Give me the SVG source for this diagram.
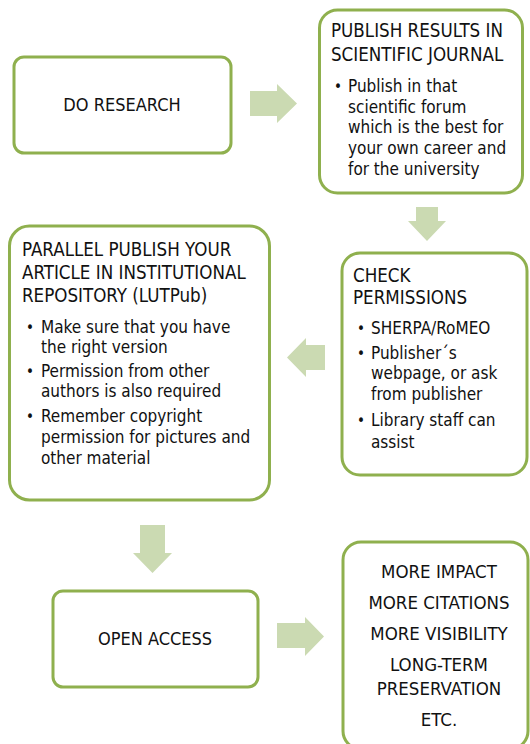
<svg xmlns="http://www.w3.org/2000/svg" width="530" height="744" viewBox="0 0 530 744">
<style>
.box{fill:#fff;stroke:#8fb04e;stroke-width:3}
.arr{fill:#cbdab2}
text{font-family:"DejaVu Sans Condensed","DejaVu Sans",sans-serif;fill:#111;font-size:17px}
.t{font-size:18px}
.h{font-size:18.6px}
.m{font-size:18.5px}
.b{font-size:15px}
.c{text-anchor:middle}
</style>
<rect width="530" height="744" fill="#fff"/>
<g id="connectors">
<polygon class="arr" points="250,91 277,91 277,84 297,103.5 277,123 277,116 250,116"/>
<polygon class="arr" points="416,207 438,207 438,221 446,221 427,241 408,221 416,221"/>
<polygon class="arr" points="325,345 306,345 306,338 287,357.5 306,377 306,370 325,370"/>
<polygon class="arr" points="140,525 165,525 165,553 172,553 152.5,573 133,553 140,553"/>
<polygon class="arr" points="277,623 305,623 305,617 324,636.5 305,656 305,648 277,648"/>
</g>
<g id="do-research">
<rect class="box" x="14" y="57" width="217" height="96" rx="10"/>
<text class="t c" x="122" y="111">DO RESEARCH</text>
</g>
<g id="publish-results">
<rect class="box" x="319.5" y="10" width="203" height="183" rx="18"/>
<text class="h" x="331" y="37">PUBLISH RESULTS IN</text>
<text class="h" x="331" y="61">SCIENTIFIC JOURNAL</text>
<text class="b" x="334" y="92">•</text>
<text x="348" y="92">Publish in that</text>
<text x="348" y="113">scientific forum</text>
<text x="348" y="133">which is the best for</text>
<text x="348" y="154">your own career and</text>
<text x="348" y="175">for the university</text>
</g>
<g id="check-permissions">
<rect class="box" x="342" y="253" width="185" height="222" rx="18"/>
<text class="h" x="353" y="282">CHECK</text>
<text class="h" x="353" y="304">PERMISSIONS</text>
<text class="b" x="357" y="334">•</text>
<text x="371" y="334">SHERPA/RoMEO</text>
<text class="b" x="357" y="359">•</text>
<text x="371" y="359">Publisher´s</text>
<text x="371" y="379">webpage, or ask</text>
<text x="371" y="400">from publisher</text>
<text class="b" x="357" y="426">•</text>
<text x="371" y="426">Library staff can</text>
<text x="371" y="448">assist</text>
</g>
<g id="parallel-publish">
<rect class="box" x="9.5" y="226" width="260" height="274" rx="20"/>
<text class="h" x="22" y="256">PARALLEL PUBLISH YOUR</text>
<text class="h" x="22" y="279">ARTICLE IN INSTITUTIONAL</text>
<text class="h" x="22" y="302">REPOSITORY (LUTPub)</text>
<text class="b" x="26" y="333">•</text>
<text x="41" y="333">Make sure that you have</text>
<text x="41" y="353">the right version</text>
<text class="b" x="26" y="377">•</text>
<text x="41" y="377">Permission from other</text>
<text x="41" y="397">authors is also required</text>
<text class="b" x="26" y="422">•</text>
<text x="41" y="422">Remember copyright</text>
<text x="41" y="443">permission for pictures and</text>
<text x="41" y="464">other material</text>
</g>
<g id="open-access">
<rect class="box" x="53" y="591" width="205" height="96" rx="10"/>
<text class="t c" x="155" y="645">OPEN ACCESS</text>
</g>
<g id="benefits">
<rect class="box" x="343" y="542" width="185" height="207" rx="18"/>
<text class="m c" x="439" y="578">MORE IMPACT</text>
<text class="m c" x="439" y="609">MORE CITATIONS</text>
<text class="m c" x="439" y="640">MORE VISIBILITY</text>
<text class="m c" x="439" y="671">LONG-TERM</text>
<text class="m c" x="439" y="695">PRESERVATION</text>
<text class="m c" x="439" y="726">ETC.</text>
</g>
</svg>
